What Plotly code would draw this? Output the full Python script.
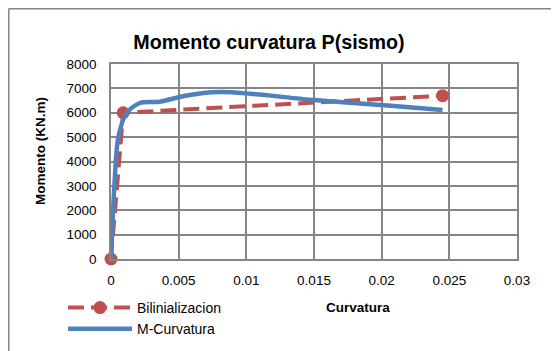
import plotly.graph_objects as go

# Data
bil_x = [0, 0.0009, 0.0245]
bil_y = [0, 6000, 6700]

mc_x = [0, 0.00025, 0.00054, 0.00116, 0.00214, 0.0036, 0.0055, 0.00805, 0.0103, 0.015, 0.02, 0.0245]
mc_y = [0, 3000, 5000, 6000, 6400, 6450, 6700, 6850, 6780, 6520, 6320, 6110]

red = "#C0504D"
blue = "#4F81BD"
grid = "#868686"
font = "Liberation Sans, Arial, sans-serif"

# page body has an 8px margin; compensate so plot lands at screen px
OFF = 8
PL, PT, PW, PH = 111, 64, 406, 195  # plot area in screen px


def px(xs):
    return (xs - PL) / PW


def py(ys):
    return (PT + PH - ys) / PH


fig = go.Figure()
fig.add_trace(go.Scatter(x=bil_x, y=bil_y, name="Bilinializacion", mode="lines+markers",
                         line=dict(color=red, width=4, dash="16px,7px"),
                         marker=dict(color=red, size=13), cliponaxis=False))
fig.add_trace(go.Scatter(x=mc_x, y=mc_y, name="M-Curvatura", mode="lines",
                         line=dict(color=blue, width=4.5, shape="spline", smoothing=0.8),
                         cliponaxis=False))

fig.update_layout(
    width=559, height=351,
    margin=dict(l=PL - OFF, r=559 - (PL - OFF) - PW, t=PT - OFF, b=351 - (PT - OFF) - PH, autoexpand=False),
    paper_bgcolor="white", plot_bgcolor="white",
    font=dict(family=font, size=13, color="#000000"),
    showlegend=True,
    legend=dict(x=px(63), y=py(292), xanchor="left", yanchor="top", itemwidth=64,
                font=dict(size=14), bgcolor="rgba(0,0,0,0)", tracegroupgap=0),
    title=dict(text="<b>Momento curvatura P(sismo)</b>", x=px(269), xref="paper", xanchor="center",
               y=1 - (42 - OFF) / 351, yanchor="middle", font=dict(size=19.7)),
)
fig.update_xaxes(range=[0, 0.03], dtick=0.005, tick0=0, showgrid=True, gridcolor=grid, gridwidth=1.5,
                 showline=True, linecolor=grid, linewidth=1.5, mirror=True, zeroline=False,
                 ticks="", tickfont=dict(size=13.5), ticklabelstandoff=8)
fig.update_yaxes(range=[0, 8000], dtick=1000, showgrid=True, gridcolor=grid, gridwidth=1.5,
                 showline=True, linecolor=grid, linewidth=1.5, mirror=True, zeroline=False,
                 ticks="", tickfont=dict(size=13.5), ticklabelstandoff=10)

# axis titles
fig.add_annotation(text="<b>Curvatura</b>", xref="paper", yref="paper",
                   x=px(358), y=py(307), showarrow=False,
                   font=dict(size=13.5), xanchor="center", yanchor="middle")
fig.add_annotation(text="<b>Momento (KN.m)</b>", xref="paper", yref="paper",
                   x=px(40), y=py(151), showarrow=False, textangle=-90,
                   font=dict(size=13.5), xanchor="center", yanchor="middle")

# outer chart frame (only top and left visible)
EDGE = OFF + 0.75
fig.add_shape(type="line", xref="paper", yref="paper",
              x0=px(EDGE), x1=px(580), y0=py(EDGE), y1=py(EDGE),
              line=dict(color=grid, width=1.5))
fig.add_shape(type="line", xref="paper", yref="paper",
              x0=px(EDGE), x1=px(EDGE), y0=py(EDGE), y1=py(380),
              line=dict(color=grid, width=1.5))

fig.write_html("out.html")
